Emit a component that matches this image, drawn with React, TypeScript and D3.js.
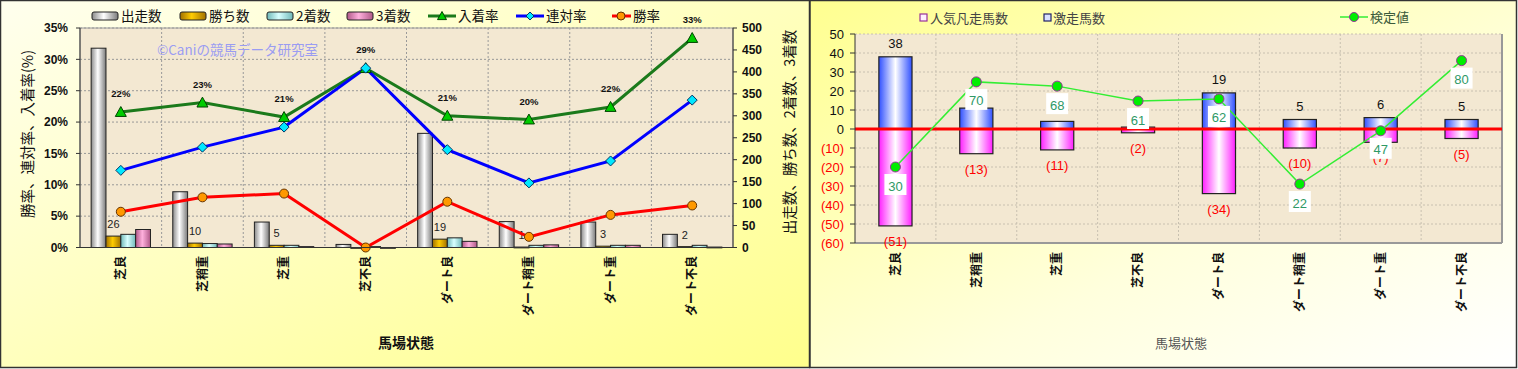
import React from 'react';
import * as d3 from 'd3';

// data
const categories = ['芝良', '芝稍重', '芝重', '芝不良', 'ダート良', 'ダート稍重', 'ダート重', 'ダート不良'];
const starts = [454, 127, 58, 7, 260, 59, 58, 30];
const wins = [26, 10, 5, 0, 19, 1, 3, 2];
const seconds = [30, 9, 5, 2, 22, 5, 5, 5];
const thirds = [41, 8, 2, 0, 14, 6, 5, 1];
const winRate = [5.7, 8.0, 8.6, 0, 7.3, 1.7, 5.2, 6.7];
const rentaiRate = [12.3, 16.0, 19.2, 28.6, 15.6, 10.3, 13.8, 23.5];
const placeRate = [21.6, 23.1, 20.8, 28.6, 21.0, 20.4, 22.4, 33.4];
const rateTicks = [0, 5, 10, 15, 20, 25, 30, 35];
const countTicks = [0, 50, 100, 150, 200, 250, 300, 350, 400, 450, 500];

const hitCounts = [38, 11, 4, 1, 19, 5, 6, 5];
const flopCounts = [51, 13, 11, 2, 34, 10, 7, 5];
const testValues = [30, 70, 68, 61, 62, 22, 47, 80];
const diffTicks = [50, 40, 30, 20, 10, 0, -10, -20, -30, -40, -50, -60];

const FONT = "'Liberation Sans', 'Noto Sans CJK JP', sans-serif";
const JP = "'Noto Sans CJK JP', 'Liberation Sans', sans-serif";

const LeftChart = () => {
  // plot area
  const x0 = 80, x1 = 733, yTop = 28, yBot = 247.5;
  const x = d3.scaleBand().domain(categories).range([x0, x1]);
  const yRate = d3.scaleLinear().domain([0, 35]).range([yBot, yTop]);
  const yCount = d3.scaleLinear().domain([0, 500]).range([yBot, yTop]);
  const bw = x.bandwidth();
  const groupW = bw * 0.727;
  const sub = d3.scaleBand().domain(['s', 'w', '2', '3']).range([0, groupW]);
  const cx = (c) => x(c) + bw / 2;

  const line = (vals) =>
    d3
      .line()
      .x((d, i) => cx(categories[i]))
      .y((d) => yRate(d))(vals);

  const barSeries = [
    { key: 's', vals: starts, fill: 'url(#gWhite)' },
    { key: 'w', vals: wins, fill: 'url(#gGold)' },
    { key: '2', vals: seconds, fill: 'url(#gCyan)' },
    { key: '3', vals: thirds, fill: 'url(#gPink)' },
  ];

  const tri = (px, py, r) => `M${px},${py - r}L${px + r},${py + r * 0.8}L${px - r},${py + r * 0.8}Z`;
  const dia = (px, py, r) => `M${px},${py - r}L${px + r},${py}L${px},${py + r}L${px - r},${py}Z`;

  return (
    <g>
      <rect x={0.5} y={0.5} width={809} height={367} fill="url(#bgLeft)" stroke="#333" strokeWidth={1.5} />
      <rect x={x0} y={yTop} width={x1 - x0} height={yBot - yTop} fill="#f3e8d2" stroke="#999" />
      {/* gridlines */}
      {rateTicks.map((t) => (
        <line key={t} x1={x0} x2={x1} y1={yRate(t)} y2={yRate(t)} stroke="#999" strokeDasharray="2,2" />
      ))}
      {categories.slice(1).map((c) => (
        <line key={c} x1={x(c)} x2={x(c)} y1={yTop} y2={yBot} stroke="#999" strokeDasharray="2,2" />
      ))}
      <text x={157} y={55} fontFamily={JP} fontSize={13.5} fill="#9a9cf2">©Caniの競馬データ研究室</text>

      {/* bars */}
      {barSeries.map((s) =>
        s.vals.map((v, i) => {
          const c = categories[i];
          const bx = x(c) + (bw - groupW) / 2 + sub(s.key);
          return (
            <rect key={s.key + i} x={bx} y={yCount(v)} width={sub.bandwidth()} height={Math.max(yBot - yCount(v), 0.8)}
              fill={s.fill} stroke="#222" strokeWidth={1} />
          );
        }),
      )}
      {wins.map((v, i) =>
        v > 0 ? (
          <text key={i} x={x(categories[i]) + (bw - groupW) / 2 + sub('w') + sub.bandwidth() / 2} y={yCount(v) - 8}
            textAnchor="middle" fontFamily={FONT} fontSize={11} fill="#222">{v}</text>
        ) : null,
      )}

      {/* lines */}
      <path d={line(placeRate)} fill="none" stroke="#1b7a1b" strokeWidth={3} />
      <path d={line(rentaiRate)} fill="none" stroke="#0000ff" strokeWidth={3} />
      <path d={line(winRate)} fill="none" stroke="#ff0000" strokeWidth={3} />
      {placeRate.map((v, i) => (
        <path key={i} d={tri(cx(categories[i]), yRate(v), 5.5)} fill="#00cc00" stroke="#004400" strokeWidth={1} />
      ))}
      {rentaiRate.map((v, i) => (
        <path key={i} d={dia(cx(categories[i]), yRate(v), 5)} fill="#00e8ff" stroke="#003366" strokeWidth={1} />
      ))}
      {winRate.map((v, i) => (
        <circle key={i} cx={cx(categories[i])} cy={yRate(v)} r={4.5} fill="#ff9900" stroke="#663300" strokeWidth={1} />
      ))}
      {placeRate.map((v, i) => (
        <text key={i} x={cx(categories[i])} y={yRate(v) - 15} textAnchor="middle" fontFamily={FONT} fontSize={9.5}
          fontWeight="bold" fill="#111">{Math.round(v)}%</text>
      ))}

      {/* axes */}
      <line x1={x0} x2={x0} y1={yTop} y2={yBot} stroke="#333" />
      <line x1={x1} x2={x1} y1={yTop} y2={yBot} stroke="#333" />
      <line x1={x0} x2={x1} y1={yBot} y2={yBot} stroke="#333" />
      {rateTicks.map((t) => (
        <g key={t}>
          <line x1={x0 - 4} x2={x0} y1={yRate(t)} y2={yRate(t)} stroke="#333" />
          <text x={68} y={yRate(t)} dy="0.35em" textAnchor="end" fontFamily={FONT} fontSize={12} fontWeight="bold" fill="#111">{t}%</text>
        </g>
      ))}
      {countTicks.map((t) => (
        <g key={t}>
          <line x1={x1} x2={x1 + 4} y1={yCount(t)} y2={yCount(t)} stroke="#333" />
          <text x={742} y={yCount(t)} dy="0.35em" fontFamily={FONT} fontSize={12} fontWeight="bold" fill="#111">{t}</text>
        </g>
      ))}
      {categories.map((c) => (
        <text key={c} transform={`translate(${cx(c)},256) rotate(-90)`} dy="0.35em" textAnchor="end" fontFamily={JP}
          fontSize={12} fontWeight="bold" fill="#111">{c}</text>
      ))}
      <text transform="translate(28,134) rotate(-90)" dy="0.35em" textAnchor="middle" fontFamily={JP} fontSize={14.5} fill="#111">勝率、連対率、入着率(%)</text>
      <text transform="translate(790,132) rotate(-90)" dy="0.35em" textAnchor="middle" fontFamily={JP} fontSize={14.5} fill="#111">出走数、勝ち数、2着数、3着数</text>
      <text x={406} y={348} textAnchor="middle" fontFamily={JP} fontSize={14} fontWeight="bold" fill="#111">馬場状態</text>

      {/* legend */}
      {[
        { x: 92, label: '出走数', fill: 'url(#gWhite)' },
        { x: 180, label: '勝ち数', fill: 'url(#gGold)' },
        { x: 267, label: '2着数', fill: 'url(#gCyan)' },
        { x: 347, label: '3着数', fill: 'url(#gPink)' },
      ].map((l) => (
        <g key={l.label}>
          <rect x={l.x} y={12} width={26} height={8} rx={2} fill={l.fill} stroke="#222" />
          <text x={l.x + 29} y={16} dy="0.35em" fontFamily={JP} fontSize={13.5} fill="#111">{l.label}</text>
        </g>
      ))}
      <line x1={428} x2={456} y1={16} y2={16} stroke="#1b7a1b" strokeWidth={3} />
      <path d={tri(442, 16, 4.5)} fill="#00cc00" stroke="#004400" />
      <text x={458} y={16} dy="0.35em" fontFamily={JP} fontSize={13.5} fill="#111">入着率</text>
      <line x1={516} x2={544} y1={16} y2={16} stroke="#0000ff" strokeWidth={3} />
      <path d={dia(530, 16, 4)} fill="#00e8ff" stroke="#003366" />
      <text x={546} y={16} dy="0.35em" fontFamily={JP} fontSize={13.5} fill="#111">連対率</text>
      <line x1={612} x2={631} y1={16} y2={16} stroke="#ff0000" strokeWidth={3} />
      <circle cx={621} cy={16} r={4} fill="#ff9900" stroke="#663300" />
      <text x={633} y={16} dy="0.35em" fontFamily={JP} fontSize={13.5} fill="#111">勝率</text>
    </g>
  );
};

const RightChart = () => {
  const x0 = 855, x1 = 1502, yTop = 34, yBot = 243;
  const x = d3.scaleBand().domain(categories).range([x0, x1]);
  const y = d3.scaleLinear().domain([-60, 50]).range([yBot, yTop]);
  // hidden secondary axis for the test values
  const yT = d3.scaleLinear().domain([0, 100]).range([y(-53.6), y(58.4)]);
  const bw = x.bandwidth();
  const barW = bw * 0.41;
  const cx = (c) => x(c) + bw / 2;

  const testLine = d3
    .line()
    .x((d, i) => cx(categories[i]))
    .y((d) => yT(d))(testValues);

  return (
    <g>
      <rect x={810} y={0.5} width={706.5} height={367} fill="url(#bgRight)" stroke="#333" strokeWidth={1.5} />
      <rect x={x0} y={yTop} width={x1 - x0} height={yBot - yTop} fill="#f3e8d2" />
      {diffTicks.map((t) => (
        <line key={t} x1={x0} x2={x1} y1={y(t)} y2={y(t)} stroke="#c8c0b0" strokeDasharray="2,2" />
      ))}
      {categories.slice(1).map((c) => (
        <line key={c} x1={x(c)} x2={x(c)} y1={yTop} y2={yBot} stroke="#c8c0b0" strokeDasharray="2,2" />
      ))}
      <line x1={x1} x2={x1} y1={yTop} y2={yBot} stroke="#999" strokeWidth={2} />
      <line x1={x0} x2={x1} y1={yBot} y2={yBot} stroke="#999" strokeWidth={2} />

      {/* bars */}
      {flopCounts.map((v, i) => (
        <rect key={'f' + i} x={cx(categories[i]) - barW / 2} y={y(0)} width={barW} height={y(-v) - y(0)}
          fill="url(#gMag)" stroke="#222" strokeWidth={1.2} />
      ))}
      {hitCounts.map((v, i) => (
        <rect key={'h' + i} x={cx(categories[i]) - barW / 2} y={y(v)} width={barW} height={y(0) - y(v)}
          fill="url(#gBlue)" stroke="#222" strokeWidth={1.2} />
      ))}
      {hitCounts.map((v, i) => (
        <text key={'ht' + i} x={cx(categories[i])} y={y(v) - 9} textAnchor="middle" fontFamily={FONT} fontSize={13} fill="#111">{v}</text>
      ))}
      {flopCounts.map((v, i) => (
        <text key={'ft' + i} x={cx(categories[i])} y={y(-v) + 20} textAnchor="middle" fontFamily={FONT} fontSize={13} fill="#ff0000">({v})</text>
      ))}
      <line x1={x0} x2={x1} y1={y(0)} y2={y(0)} stroke="#ff0000" strokeWidth={3} />

      {/* test value line */}
      <path d={testLine} fill="none" stroke="#33ee33" strokeWidth={1.5} />
      {testValues.map((v, i) => (
        <circle key={i} cx={cx(categories[i])} cy={yT(v)} r={5} fill="#00ee00" stroke="#993399" strokeWidth={1} />
      ))}
      {testValues.map((v, i) => (
        <g key={'tl' + i}>
          <rect x={cx(categories[i]) - 11} y={yT(v) + 7} width={22} height={21} fill="#ffffff" />
          <text x={cx(categories[i])} y={yT(v) + 19} dy="0.35em" textAnchor="middle" fontFamily={FONT} fontSize={13} fill="#2e9966">{v}</text>
        </g>
      ))}

      {/* axes */}
      <line x1={x0} x2={x0} y1={yTop} y2={yBot} stroke="#333" />
      {diffTicks.map((t) => (
        <g key={t}>
          <line x1={x0 - 5} x2={x0} y1={y(t)} y2={y(t)} stroke="#333" />
          <text x={844} y={y(t)} dy="0.35em" textAnchor="end" fontFamily={FONT} fontSize={13}
            fill={t < 0 ? '#ff0000' : '#111'}>{t < 0 ? `(${-t})` : t}</text>
        </g>
      ))}
      {categories.map((c) => (
        <text key={c} transform={`translate(${cx(c)},252) rotate(-90)`} dy="0.35em" textAnchor="end" fontFamily={JP}
          fontSize={12} fontWeight="bold" fill="#111">{c}</text>
      ))}
      <text x={1181} y={348} textAnchor="middle" fontFamily={JP} fontSize={13} fill="#555">馬場状態</text>

      {/* legend */}
      <rect x={920} y={14} width={7} height={7} fill="#fff0ff" stroke="#993399" strokeWidth={1.2} />
      <text x={930} y={18} dy="0.35em" fontFamily={JP} fontSize={13} fill="#444">人気凡走馬数</text>
      <rect x={1044} y={14} width={7} height={7} fill="#d8e0ff" stroke="#222266" strokeWidth={1.2} />
      <text x={1053} y={18} dy="0.35em" fontFamily={JP} fontSize={13} fill="#444">激走馬数</text>
      <line x1={1340} x2={1368} y1={17} y2={17} stroke="#33ee33" strokeWidth={1.5} />
      <circle cx={1354} cy={17} r={4.5} fill="#00ee00" stroke="#993399" />
      <text x={1370} y={17} dy="0.35em" fontFamily={JP} fontSize={13} fill="#3a5a3a">検定値</text>
    </g>
  );
};

export default function App() {
  return (
    <svg width={1518} height={369} style={{ position: 'absolute', left: 0, top: 0, background: '#fff' }}>
      <defs>
        <linearGradient id="bgLeft" x1="0" y1="0" x2="1" y2="1">
          <stop offset="0" stopColor="#ffffee" />
          <stop offset="1" stopColor="#ffff8c" />
        </linearGradient>
        <linearGradient id="bgRight" x1="0" y1="0" x2="1" y2="1">
          <stop offset="0" stopColor="#ffff90" />
          <stop offset="0.6" stopColor="#ffffdd" />
          <stop offset="1" stopColor="#ffffff" />
        </linearGradient>
        <linearGradient id="gWhite" x1="0" x2="1" y1="0" y2="0">
          <stop offset="0" stopColor="#8a8a8a" />
          <stop offset="0.45" stopColor="#ffffff" />
          <stop offset="1" stopColor="#7a7a7a" />
        </linearGradient>
        <linearGradient id="gGold" x1="0" x2="1" y1="0" y2="0">
          <stop offset="0" stopColor="#a07000" />
          <stop offset="0.45" stopColor="#ffcc00" />
          <stop offset="1" stopColor="#a07000" />
        </linearGradient>
        <linearGradient id="gCyan" x1="0" x2="1" y1="0" y2="0">
          <stop offset="0" stopColor="#70b8b8" />
          <stop offset="0.45" stopColor="#d8ffff" />
          <stop offset="1" stopColor="#70b8b8" />
        </linearGradient>
        <linearGradient id="gPink" x1="0" x2="1" y1="0" y2="0">
          <stop offset="0" stopColor="#b05888" />
          <stop offset="0.45" stopColor="#ffb0dd" />
          <stop offset="1" stopColor="#b05888" />
        </linearGradient>
        <linearGradient id="gBlue" x1="0" x2="1" y1="0" y2="0">
          <stop offset="0" stopColor="#3050ff" />
          <stop offset="0.5" stopColor="#ffffff" />
          <stop offset="1" stopColor="#3050ff" />
        </linearGradient>
        <linearGradient id="gMag" x1="0" x2="1" y1="0" y2="0">
          <stop offset="0" stopColor="#ff20ff" />
          <stop offset="0.5" stopColor="#ffffff" />
          <stop offset="1" stopColor="#ff20ff" />
        </linearGradient>
      </defs>
      <LeftChart />
      <RightChart />
    </svg>
  );
}
